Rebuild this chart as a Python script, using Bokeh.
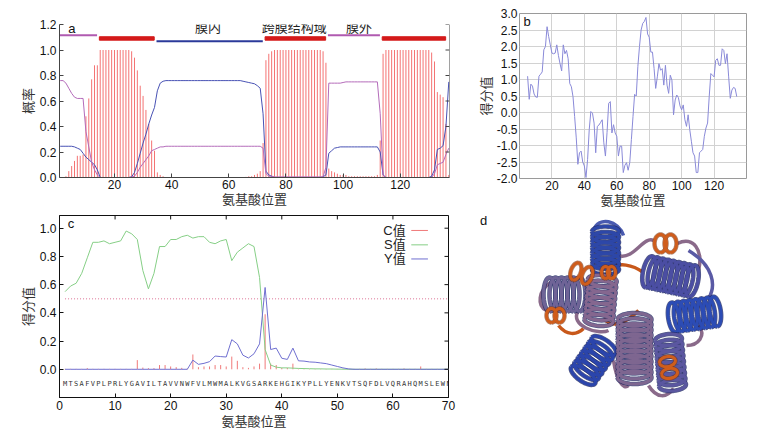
import numpy as np
from bokeh.plotting import figure
from bokeh.layouts import column, row
from bokeh.models import Range1d, FixedTicker, PrintfTickFormatter, Span
from bokeh.embed import file_html
from bokeh.resources import INLINE
from bokeh.core.properties import value

NUM_FONT = "Liberation Sans"
CJK_FONT = "Liberation Sans, Noto Sans CJK SC"

# ---------------- panel a : TMHMM-like topology ----------------
a_pos = list(range(1, 138))
a_tm = [0, 0, 0.01, 0.05, 0.09, 0.13, 0.17, 0.17, 0.18, 0.48,
        0.62, 0.77, 0.88, 0.88, 1.0, 1.0, 1.0, 1.0, 1.0, 1.0,
        1.0, 1.0, 1.0, 1.0, 1.0, 0.99, 0.94, 0.84, 0.72, 0.64,
        0.53, 0.42, 0.29, 0.21, 0.04, 0.02, 0.01, 0, 0, 0,
        0, 0, 0, 0, 0, 0, 0, 0, 0, 0,
        0, 0, 0, 0, 0, 0, 0, 0, 0, 0,
        0, 0, 0, 0, 0, 0.005, 0.01, 0.01, 0.02, 0.03,
        0.05, 0.27, 0.92, 0.97, 0.99, 1.0, 1.0, 1.0, 1.0, 1.0,
        1.0, 1.0, 1.0, 1.0, 1.0, 1.0, 1.0, 1.0, 1.0, 1.0,
        1.0, 1.0, 0.99, 0.90, 0.07, 0.05, 0.04, 0.03, 0.02, 0.02,
        0.02, 0.01, 0.01, 0.01, 0.01, 0.01, 0.01, 0.01, 0.01, 0.01,
        0.01, 0.02, 0.29, 0.97, 1.0, 1.0, 1.0, 1.0, 1.0, 1.0,
        1.0, 1.0, 1.0, 1.0, 1.0, 1.0, 1.0, 1.0, 1.0, 1.0,
        0.98, 0.91, 0.67, 0.65, 0.63, 0.42, 0.02]
a_inside = [0.245, 0.245, 0.245, 0.245, 0.245, 0.24, 0.23, 0.22, 0.19, 0.16,
            0.14, 0.12, 0.10, 0.06, 0, 0, 0, 0, 0, 0,
            0, 0, 0, 0, 0, 0.005, 0.04, 0.11, 0.19, 0.27,
            0.34, 0.42, 0.49, 0.55, 0.68, 0.74, 0.755, 0.76, 0.76, 0.76,
            0.76, 0.76, 0.76, 0.76, 0.76, 0.76, 0.76, 0.76, 0.76, 0.76,
            0.76, 0.76, 0.76, 0.76, 0.76, 0.76, 0.76, 0.76, 0.76, 0.76,
            0.76, 0.76, 0.76, 0.76, 0.755, 0.75, 0.745, 0.74, 0.735, 0.72,
            0.70, 0.50, 0.05, 0.02, 0.01, 0, 0, 0, 0, 0,
            0, 0, 0, 0, 0, 0, 0, 0, 0, 0,
            0, 0, 0.005, 0.02, 0.19, 0.21, 0.23, 0.235, 0.24, 0.24,
            0.24, 0.24, 0.24, 0.24, 0.24, 0.24, 0.24, 0.24, 0.24, 0.24,
            0.24, 0.24, 0.20, 0.02, 0, 0, 0, 0, 0, 0,
            0, 0, 0, 0, 0, 0, 0, 0, 0, 0,
            0.01, 0.06, 0.22, 0.23, 0.25, 0.40, 0.75]
a_outside = [0.76, 0.76, 0.74, 0.70, 0.66, 0.63, 0.62, 0.62, 0.62, 0.36,
             0.24, 0.12, 0.06, 0.02, 0, 0, 0, 0, 0, 0,
             0, 0, 0, 0, 0, 0.005, 0.01, 0.04, 0.08, 0.11,
             0.14, 0.17, 0.21, 0.22, 0.23, 0.24, 0.24, 0.245, 0.245, 0.245,
             0.245, 0.245, 0.245, 0.245, 0.245, 0.245, 0.245, 0.245, 0.245, 0.245,
             0.245, 0.245, 0.245, 0.245, 0.245, 0.245, 0.245, 0.245, 0.245, 0.245,
             0.245, 0.245, 0.245, 0.245, 0.245, 0.245, 0.245, 0.245, 0.245, 0.245,
             0.245, 0.23, 0.03, 0.01, 0.01, 0.005, 0.005, 0.005, 0.005, 0.005,
             0.005, 0.005, 0.005, 0.005, 0.005, 0.005, 0.005, 0.005, 0.005, 0.005,
             0.005, 0.005, 0.005, 0.08, 0.74, 0.74, 0.74, 0.74, 0.74, 0.745,
             0.75, 0.75, 0.75, 0.75, 0.75, 0.75, 0.75, 0.75, 0.75, 0.75,
             0.75, 0.75, 0.50, 0.02, 0, 0, 0, 0, 0, 0,
             0, 0, 0, 0, 0, 0, 0, 0, 0, 0,
             0, 0.03, 0.10, 0.11, 0.12, 0.18, 0.23]
topo_kind = ["outside", "tm", "inside", "tm", "outside", "tm"]
topo_start = [1, 15, 35, 73, 95, 114]
topo_end = [14, 34, 72, 94, 113, 136]
topo_text = ["膜内", "跨膜结构域", "膜外"]
topo_text_x = [52.7, 82.9, 105.6]
a_xticks = [20, 40, 60, 80, 100, 120]
a_yticks = [0.0, 0.2, 0.4, 0.6, 0.8, 1.0, 1.2]

# ---------------- panel b : hydrophobicity ----------------
b_pos = list(range(5, 135))
b_score = [1.10, 0.40, 0.86, 0.80, 0.56, 0.47, 0.46, 1.10, 1.16, 1.23,
           1.90, 2.00, 2.60, 2.30, 2.05, 1.80, 1.78, 1.80, 2.05, 1.73,
           1.48, 1.26, 2.05, 1.78, 1.88, 1.63, 0.88, 0.78, 0.48, -0.12,
           -0.77, -1.57, -1.22, -1.17, -1.50, -1.62, -1.97, -1.42, -0.52, 0.03,
           -0.02, -0.32, -1.22, -0.42, -0.38, -0.30, -0.22, -0.92, -1.32, -0.60,
           0.28, 0.33, -0.62, -0.37, -0.62, -0.72, -1.32, -1.02, -1.02, -1.82,
           -1.60, -1.52, -1.75, -1.52, -0.82, -0.12, 0.55, 0.50, 1.40, 2.00,
           2.50, 2.70, 2.76, 2.88, 2.38, 2.28, 1.83, 1.83, 1.33, 0.73,
           1.08, 1.48, 1.28, 1.33, 0.83, 1.43, 0.83, 0.58, 1.13, 0.98,
           -0.07, 0.38, 0.53, 0.45, 0.20, 0.08, 0.23, -0.22, -0.42, -0.07,
           -0.52, -0.87, -1.22, -1.32, -1.82, -1.82, -1.22, -1.17, -1.12, -0.72,
           -0.47, -0.32, 0.48, 1.18, 1.13, 1.08, 1.58, 1.63, 1.43, 1.43,
           1.93, 1.88, 1.48, 1.78, 1.08, 0.43, 0.68, 0.76, 0.73, 0.48]
b_xticks = [20, 40, 60, 80, 100, 120]
b_yticks = [-2.0, -1.5, -1.0, -0.5, 0.0, 0.5, 1.0, 1.5, 2.0, 2.5, 3.0]
b_label_overrides = {-1.5: "-2.5"}

# ---------------- panel c : signal peptide ----------------
c_pos = list(range(1, 71))
c_seq = list("MTSAFVPLPRLYGAVILTAVVNWFVLMWMALKVGSARKEHGIKYPLLYENKVTSQFDLVQRAHQMSLEWN")
c_score = [0.003, 0.003, 0.003, 0.003, 0.008, 0.003, 0.003, 0.003, 0.003, 0.003,
           0.003, 0.003, 0.003, 0.065, 0.012, 0.008, 0.008, 0.03, 0.03, 0.02,
           0.015, 0.01, 0.005, 0.105, 0.015, 0.02, 0.02, 0.03, 0.03, 0.02,
           0.09, 0.06, 0.015, 0.01, 0.02, 0.04, 0.39, 0.04, 0.03, 0.01,
           0.01, 0.04, 0.005, 0.003, 0.003, 0.003, 0.003, 0.003, 0.003, 0.003,
           0.003, 0.003, 0.003, 0.003, 0.006, 0.003, 0.006, 0.003, 0.003, 0.003,
           0.003, 0.006, 0.003, 0.003, 0.02, 0.003, 0.003, 0.003, 0.003, 0.003]
s_score = [0.55, 0.59, 0.61, 0.68, 0.79, 0.90, 0.90, 0.91, 0.89, 0.90,
           0.91, 0.98, 0.96, 0.92, 0.70, 0.57, 0.68, 0.87, 0.87, 0.92,
           0.92, 0.94, 0.95, 0.93, 0.94, 0.94, 0.90, 0.89, 0.91, 0.92,
           0.77, 0.83, 0.86, 0.89, 0.87, 0.65, 0.14, 0.03, 0.015, 0.01,
           0.01, 0.008, 0.006, 0.005, 0.004, 0.003, 0.003, 0.002, 0.002, 0.001,
           0.001, 0, 0, 0, 0, 0, 0, 0, 0, 0,
           0, 0, 0, 0, 0, 0, 0, 0, 0, 0]
y_score = [0, 0, 0, 0, 0, 0, 0, 0, 0, 0,
           0, 0, 0, 0, 0, 0, 0, 0, 0, 0,
           0, 0, 0, 0.065, 0.035, 0.042, 0.054, 0.094, 0.09, 0.087,
           0.21, 0.18, 0.10, 0.08, 0.11, 0.18, 0.58, 0.14, 0.15, 0.078,
           0.07, 0.15, 0.06, 0.058, 0.052, 0.05, 0.045, 0.04, 0.03, 0.02,
           0.01, 0.003, 0, 0, 0, 0, 0, 0, 0, 0,
           0, 0, 0, 0, 0, 0, 0, 0, 0, 0]
c_cutoff = 0.5
c_legend_text = ["C值", "S值", "Y值"]
c_legend_color = ["#f07a7a", "#86cf86", "#6f6fd0"]
c_xticks = [0, 10, 20, 30, 40, 50, 60, 70]
c_yticks = [0.0, 0.2, 0.4, 0.6, 0.8, 1.0]

# ---------------- panel d : 3D cartoon (schematic) ----------------
helix_cx = [147, 106, 142, 212, 236, 135, 176, 212]
helix_cy = [40, 84, 90, 66, 104, 150, 138, 152]
helix_len = [38, 30, 40, 44, 42, 36, 58, 46]
helix_dir = [90, 0, 95, 12, -8, 125, 90, 85]
helix_w = [27, 34, 29, 32, 30, 29, 34, 27]
helix_t = [10, 12, 11, 12, 11, 12, 13, 11]
helix_col = ["#2d47a8", "#6f6497", "#85678f", "#4b4ea3", "#2c4cb5", "#2b45ac", "#7e6690", "#5b57a0"]
orange_cx = [207, 123, 97, 210, 150]
orange_cy = [33, 63, 105, 157, 62]
orange_len = [10, 12, 8, 12, 6]
orange_dir = [0, 20, 0, 80, 0]
orange_w = [18, 18, 14, 16, 12]
orange_t = [12, 10, 10, 10, 8]
loop_x0 = [135, 160, 219, 92, 100, 145, 155, 190, 240, 150, 120, 230]
loop_y0 = [20, 45, 33, 72, 115, 108, 150, 175, 115, 60, 100, 40]
loop_x1 = [165, 195, 240, 88, 125, 180, 170, 215, 228, 185, 150, 250]
loop_y1 = [25, 30, 60, 100, 118, 100, 175, 178, 135, 62, 120, 88]
loop_cx0 = [140, 175, 235, 80, 108, 155, 158, 198, 248, 160, 110, 255]
loop_cy0 = [5, 50, 25, 80, 125, 120, 170, 188, 125, 50, 115, 55]
loop_cx1 = [160, 185, 245, 78, 118, 170, 165, 208, 240, 175, 140, 258]
loop_cy1 = [10, 25, 40, 95, 125, 110, 180, 188, 135, 55, 125, 75]
loop_col = ["#4a5bb0", "#8a6a8a", "#8a6a8a", "#8a6a8a", "#c8581a", "#c8581a",
            "#8a6a8a", "#8a6a8a", "#8a6a8a", "#c8581a", "#8a6a8a", "#5a5aa5"]


def style_axis(ax, color="#333333"):
    ax.major_label_text_font = NUM_FONT
    ax.major_label_text_font_size = "12px"
    ax.major_label_text_color = "#111111"
    ax.axis_label_text_font = CJK_FONT
    ax.axis_label_text_font_size = "13px"
    ax.axis_label_text_font_style = "normal"
    ax.axis_label_text_color = "#333333"
    ax.minor_tick_line_color = None
    ax.major_tick_out = 0
    ax.major_tick_in = 4
    ax.major_tick_line_color = color
    ax.axis_line_color = color
    ax.major_label_standoff = 3
    ax.axis_label_standoff = 1


# ===== figure a =====
fa = figure(width=458, height=210, x_range=Range1d(0.75, 137.25), y_range=Range1d(0, 1.2),
            output_backend="svg", toolbar_location=None,
            min_border_left=59, min_border_right=9, min_border_top=24, min_border_bottom=33)
fa.frame_align = False
fa.grid.visible = False
fa.outline_line_color = None
fa.segment(x0=a_pos, y0=0, x1=a_pos, y1=a_tm, color="#f04444", line_width=1, line_alpha=0.75)
fa.line(a_pos, a_inside, color="#4852b4", line_width=1)
fa.line(a_pos, a_outside, color="#b46cba", line_width=1)

tm_x0 = [s - 0.3 for s, k in zip(topo_start, topo_kind) if k == "tm"]
tm_x1 = [e - 0.1 for e, k in zip(topo_end, topo_kind) if k == "tm"]
fa.quad(left=tm_x0, right=tm_x1, bottom=1.077, top=1.104, color="#d41a1a")
out_x0 = [max(s - 0.3, 0.75) for s, k in zip(topo_start, topo_kind) if k == "outside"]
out_x1 = [e - 0.1 for e, k in zip(topo_end, topo_kind) if k == "outside"]
fa.segment(x0=out_x0, y0=1.116, x1=out_x1, y1=1.116, color="#b05ab0", line_width=2)
in_x0 = [s - 0.3 for s, k in zip(topo_start, topo_kind) if k == "inside"]
in_x1 = [e - 0.1 for e, k in zip(topo_end, topo_kind) if k == "inside"]
fa.segment(x0=in_x0, y0=1.069, x1=in_x1, y1=1.069, color="#2b3a9a", line_width=2)
fa.text(x=topo_text_x, y=[1.175] * len(topo_text), text=topo_text,
        text_font=value(CJK_FONT), text_font_size="13px", text_color="#222222",
        text_align="center", text_baseline="middle")
fa.text(x=[5.1], y=[1.167], text=["a"], text_font=value(NUM_FONT), text_font_size="13px",
        text_color="#111111", text_align="center", text_baseline="middle")
fa.xaxis.ticker = FixedTicker(ticks=a_xticks)
fa.yaxis.ticker = FixedTicker(ticks=a_yticks)
fa.yaxis.formatter = PrintfTickFormatter(format="%.1f")
fa.xaxis.axis_label = "氨基酸位置"
fa.yaxis.axis_label = "概率"
style_axis(fa.xaxis[0], "#444444")
style_axis(fa.yaxis[0], "#444444")
fa.xaxis.major_label_standoff = 2
fa.xaxis.axis_label_standoff = 0
fa.add_layout(Span(location=137.25, dimension="height", line_color="#444444", line_width=1))
a_tick_len = 1.4
fa.segment(x0=[137.25 - a_tick_len] * len(a_yticks), y0=a_yticks, x1=[137.25] * len(a_yticks),
           y1=a_yticks, color="#444444", line_width=1)

# ===== figure b =====
fb = figure(width=300, height=210, x_range=Range1d(0, 140), y_range=Range1d(-2, 3),
            output_backend="svg", toolbar_location=None,
            min_border_left=61, min_border_right=12, min_border_top=13, min_border_bottom=31)
fb.frame_align = False
fb.xgrid.ticker = FixedTicker(ticks=b_xticks)
fb.ygrid.ticker = FixedTicker(ticks=b_yticks)
fb.grid.grid_line_color = "#d2d2d2"
fb.outline_line_color = "#9a9a9a"
fb.line(b_pos, b_score, color="#8a8ad8", line_width=1)
fb.text(x=[4.7], y=[2.75], text=["b"], text_font=value(NUM_FONT), text_font_size="13px",
        text_color="#111111", text_align="center", text_baseline="middle")
fb.xaxis.ticker = FixedTicker(ticks=b_xticks)
fb.yaxis.ticker = FixedTicker(ticks=b_yticks)
fb.yaxis.formatter = PrintfTickFormatter(format="%.1f")
fb.yaxis.major_label_overrides = b_label_overrides
fb.xaxis.axis_label = "氨基酸位置"
fb.yaxis.axis_label = "得分值"
for ax in (fb.xaxis[0], fb.yaxis[0]):
    style_axis(ax, "#9a9a9a")
    ax.major_tick_in = 0
    ax.axis_line_color = None
    ax.major_label_standoff = 2
    ax.axis_label_standoff = 0

# ===== figure c =====
fc = figure(width=458, height=222, x_range=Range1d(0, 70), y_range=Range1d(-0.2, 1.09),
            output_backend="svg", toolbar_location=None,
            min_border_left=59, min_border_right=10, min_border_top=5, min_border_bottom=35)
fc.frame_align = False
fc.grid.visible = False
fc.outline_line_color = "#111111"
fc.line([c_pos[0], c_pos[-1]], [c_cutoff, c_cutoff], color="#e8a0b8", line_width=1.5, line_dash="1 2")
fc.segment(x0=c_pos, y0=0, x1=c_pos, y1=c_score, color=c_legend_color[0], line_width=1)
fc.line(c_pos, s_score, color=c_legend_color[1], line_width=1)
fc.line(c_pos, y_score, color=c_legend_color[2], line_width=1)
fc.text(x=c_pos, y=[-0.102] * len(c_pos), text=c_seq, text_font=value("DejaVu Sans Mono"),
        text_font_size="7px", text_color="#333333", text_align="center", text_baseline="middle")
leg_y = [0.984, 0.882, 0.782]
fc.text(x=[62.3] * 3, y=leg_y, text=c_legend_text, text_font=value(CJK_FONT),
        text_font_size="13px", text_color="#222222", text_align="right", text_baseline="middle")
fc.segment(x0=[63.3] * 3, y0=leg_y, x1=[66.3] * 3, y1=leg_y, color=c_legend_color, line_width=1)
fc.text(x=[2.05], y=[1.03], text=["c"], text_font=value(NUM_FONT), text_font_size="13px",
        text_color="#111111", text_align="center", text_baseline="middle")
fc.xaxis.ticker = FixedTicker(ticks=c_xticks)
fc.yaxis.ticker = FixedTicker(ticks=c_yticks)
fc.yaxis.formatter = PrintfTickFormatter(format="%.1f")
fc.xaxis.axis_label = "氨基酸位置"
fc.yaxis.axis_label = "得分值"
style_axis(fc.xaxis[0], "#111111")
style_axis(fc.yaxis[0], "#111111")
c_tick_dx = 0.72
c_tick_dy = 0.028
fc.segment(x0=[70 - c_tick_dx] * len(c_yticks), y0=c_yticks, x1=[70] * len(c_yticks), y1=c_yticks,
           color="#111111", line_width=1)
fc.segment(x0=c_xticks, y0=[1.09 - c_tick_dy] * len(c_xticks), x1=c_xticks, y1=[1.09] * len(c_xticks),
           color="#111111", line_width=1)

# ===== figure d =====
fd = figure(width=300, height=222, x_range=Range1d(0, 300), y_range=Range1d(222, 0),
            output_backend="svg", toolbar_location=None, x_axis_type=None, y_axis_type=None,
            min_border=0)
fd.frame_align = False
fd.grid.visible = False
fd.outline_line_color = None
fd.bezier(x0=loop_x0, y0=loop_y0, x1=loop_x1, y1=loop_y1, cx0=loop_cx0, cy0=loop_cy0,
          cx1=loop_cx1, cy1=loop_cy1, line_color=loop_col, line_width=3.5)


def helix_rings(cx, cy, length, ang, w, t, step=5.0):
    u = np.array([np.cos(np.radians(ang)), np.sin(np.radians(ang))])
    v = np.array([-u[1], u[0]])
    n = max(2, int(round(length / step)))
    offs = np.linspace(-length / 2.0, length / 2.0, n)
    tt = np.linspace(0, 2 * np.pi, 40)
    xs, ys = [], []
    for o in offs:
        c = np.array([cx, cy]) + o * u
        px = c[0] + (w / 2.0) * np.cos(tt) * v[0] + (t / 2.0) * np.sin(tt) * u[0]
        py = c[1] + (w / 2.0) * np.cos(tt) * v[1] + (t / 2.0) * np.sin(tt) * u[1]
        xs.append(list(px))
        ys.append(list(py))
    return xs, ys


for i in range(len(helix_cx)):
    xs, ys = helix_rings(helix_cx[i], helix_cy[i], helix_len[i], helix_dir[i], helix_w[i], helix_t[i])
    fd.multi_line(xs, ys, line_color="#1c2660", line_width=4.6, line_alpha=0.75)
    fd.multi_line(xs, ys, line_color=helix_col[i], line_width=3.1)
for i in range(len(orange_cx)):
    xs, ys = helix_rings(orange_cx[i], orange_cy[i], orange_len[i], orange_dir[i], orange_w[i], orange_t[i])
    fd.multi_line(xs, ys, line_color="#7a3310", line_width=4.5, line_alpha=0.6)
    fd.multi_line(xs, ys, line_color="#cf5d1c", line_width=3)
fd.text(x=[25], y=[2], text=["d"], text_font=value(NUM_FONT), text_font_size="13px",
        text_color="#111111", text_align="center", text_baseline="top")

layout = column(row(fa, fb), row(fc, fd))
open("out.html", "w").write(file_html(layout, INLINE))
